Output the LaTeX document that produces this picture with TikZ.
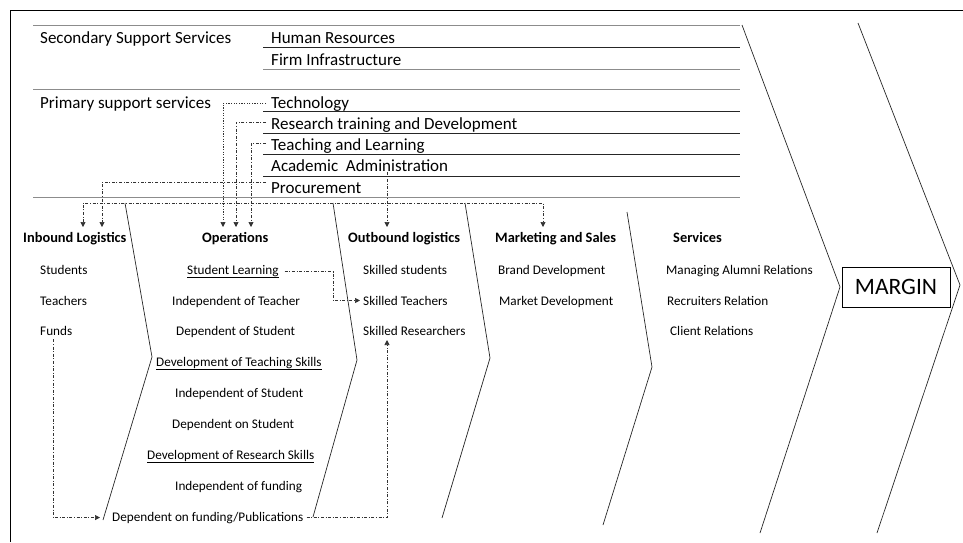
\documentclass[tikz,border=0pt]{standalone}
\usepackage{fontspec}
\setmainfont{Carlito}
\usetikzlibrary{arrows.meta}
\tikzset{
  mytip/.tip={Triangle[length=5pt,width=5pt]},
  toptxt/.style={anchor=base west, inner sep=0pt, font=\fontsize{17}{20}\selectfont},
  hdr/.style={anchor=base west, inner sep=0pt, font=\fontsize{14.4}{17}\selectfont\bfseries},
  item/.style={anchor=base west, inner sep=0pt, font=\fontsize{13.2}{16}\selectfont},
  rule/.style={line width=0.9pt, draw=black!85},
  lrule/.style={line width=0.9pt, draw=black!45},
  chev/.style={line width=0.7pt, draw=black!85},
  conn/.style={line width=0.7pt, dash pattern=on 3pt off 1.6pt on 1pt off 1.6pt, draw=black!80, -mytip},
  dconn/.style={line width=0.7pt, dash pattern=on 1.2pt off 1.4pt, draw=black!80, -mytip},
}
\begin{document}
\begin{tikzpicture}[x=1pt,y=-1pt]
\useasboundingbox (0,0) rectangle (963,542);
% frame
\draw[line width=0.8pt] (10,542) -- (10,10) -- (963,10);

% support rules
\draw[lrule] (33,25) -- (740,25);
\draw[rule] (263,47) -- (740,47);
\draw[lrule] (263,69) -- (740,69);
\draw[lrule] (33,89) -- (740,89);
\draw[rule] (263,111) -- (740,111);
\draw[rule] (263,133) -- (740,133);
\draw[rule] (263,154) -- (740,154);
\draw[rule] (263,176) -- (740,176);
\draw[lrule] (33,197) -- (740,197);

% support texts
\node[toptxt] (sec) at (40,43.5) {Secondary Support Services};
\node[toptxt] (hr) at (271,43.5) {Human Resources};
\node[toptxt] (fi) at (271,65) {Firm Infrastructure};
\node[toptxt] (pri) at (40,108) {Primary support services};
\node[toptxt] (tech) at (271,108) {Technology};
\node[toptxt] (rtd) at (271,129) {Research training and Development};
\node[toptxt] (tl) at (271,150) {Teaching and Learning};
\node[toptxt] (acad) at (271,171.5) {Academic\ \ Administration};
\node[toptxt] (proc) at (271,193) {Procurement};

% chevron separators
\draw[chev] (125,203) -- (152,357) -- (103,520);
\draw[chev] (333,203) -- (357,360) -- (313,517);
\draw[chev] (465,203) -- (490,358) -- (442,518);
\draw[chev] (627,212) -- (652,367) -- (603,525);
\draw[chev] (742,25) -- (840,287) -- (760,533);
\draw[chev] (858,23) -- (960,285) -- (877,533);

% headers
\node[hdr] (inb) at (23,242) {Inbound Logistics};
\node[hdr] (ops) at (202,242) {Operations};
\node[hdr] (outb) at (348,242) {Outbound logistics};
\node[hdr] (mks) at (495,242) {Marketing and Sales};
\node[hdr] (serv) at (673,242) {Services};

% inbound
\node[item] (stu) at (40,274) {Students};
\node[item] (tea) at (40,305) {Teachers};
\node[item] (funds) at (40,335) {Funds};

% operations
\node[item] (sl) at (187,274) {\underline{Student Learning}};
\node[item] (iot) at (172,305) {Independent of Teacher};
\node[item] (dos) at (176,335) {Dependent of Student};
\node[item] (dts) at (156,366) {\underline{Development of Teaching Skills}};
\node[item] (ios) at (175,397) {Independent of Student};
\node[item] (dons) at (172,428) {Dependent on Student};
\node[item] (drs) at (147,459) {\underline{Development of Research Skills}};
\node[item] (iof) at (175,490) {Independent of funding};
\node[item] (dof) at (112,521) {Dependent on funding/Publications};

% outbound
\node[item] (ss) at (363,274) {Skilled students};
\node[item] (st) at (363,305) {Skilled Teachers};
\node[item] (sr) at (363,335) {Skilled Researchers};

% marketing
\node[item] (bd) at (498,274) {Brand Development};
\node[item] (md) at (499,305) {Market Development};

% services
\node[item] (mar) at (666,274) {Managing Alumni Relations};
\node[item] (rr) at (667,305) {Recruiters Relation};
\node[item] (cr) at (670,335) {Client Relations};

% margin
\node[draw, line width=0.8pt, minimum width=108pt, minimum height=40pt, inner sep=0pt,
      font=\fontsize{23.5}{26}\selectfont] (margin) at (896,287) {MARGIN};

% connector coordinates
\coordinate (opT) at (223,227);
\coordinate (opR) at (236,227);
\coordinate (opL) at (251,227);
\coordinate (outA) at (387,227);
\coordinate (inP) at (102,227);
\coordinate (inA) at (83,227);
\coordinate (mkA) at (543,227);
\coordinate (c1) at (83,203);
\coordinate (c2) at (543,203);
\coordinate (slc) at (333,285);
\coordinate (srA) at (387,340);

% connectors
\draw[dconn] ([xshift=-5pt]tech.west) -| (opT);
\draw[conn] ([xshift=-5pt,yshift=2pt]rtd.west) -| (opR);
\draw[conn] ([xshift=-5pt,yshift=2pt]tl.west) -| (opL);
\draw[conn] (acad.south -| outA) -- (outA);
\draw[conn] ([xshift=-5pt,yshift=5pt]proc.west) -| (inP);
\draw[conn, mytip-mytip] (inA) -- (c1) -- (c2) -- (mkA);
\draw[conn] ([xshift=6pt]sl.east) -| (slc) |- ([xshift=-3pt]st.west);
\draw[conn] ([xshift=-3pt,yshift=-4pt]funds.south) |- ([xshift=-12pt]dof.west);
\draw[conn] ([xshift=3pt]dof.east) -| (srA);
\end{tikzpicture}
\end{document}
